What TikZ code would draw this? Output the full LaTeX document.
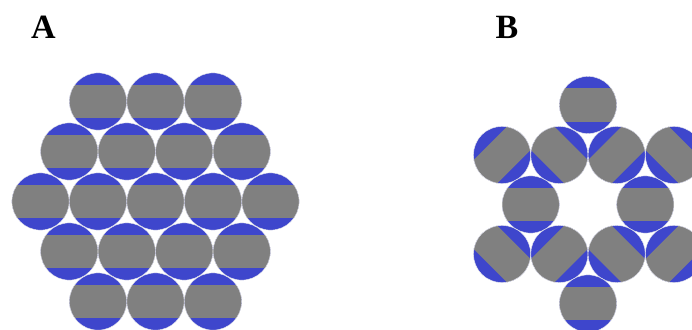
\documentclass[tikz,border=0pt]{standalone}
\usepackage{fontspec}
\setmainfont{Liberation Serif}
\definecolor{diskgray}{RGB}{128,128,128}
\definecolor{diskblue}{RGB}{62,70,204}
\tikzset{
  lbl/.style={font=\bfseries\fontsize{34}{34}\selectfont, inner sep=0pt},
  rim/.style={draw=white!85!gray, line width=0.4pt}
}
\newcommand\sdisk[3]{%
  \begin{scope}[shift={(#1,#2)}, rotate=#3]
    \begin{scope}
      \clip (0,0) circle (28.6);
      \fill[diskblue] (-30,-30) rectangle (30,30);
      \fill[diskgray] (-30,-16.6) rectangle (30,16.6);
    \end{scope}
    \draw[rim] (0,0) circle (28.6);
  \end{scope}}
\begin{document}
\begin{tikzpicture}[x=1pt,y=-1pt]
  \useasboundingbox (0,0) rectangle (692,329);
  \clip (0,0) rectangle (692,329);
  % labels
  \node[lbl] (labA) at (43.5,27.5) {A};
  \node[lbl] (labB) at (507,27.5) {B};
  % panel A
  \foreach \k in {0,...,4} {\sdisk{40.5+57.5*\k}{201.5}{0}}
  \foreach \k in {0,...,3} {\sdisk{69.25+57.5*\k}{151.5}{0}\sdisk{69.25+57.5*\k}{251.5}{0}}
  \foreach \k in {0,...,2} {\sdisk{98+57.5*\k}{101.5}{0}\sdisk{98+57.5*\k}{301.5}{0}}
  % panel B
  \sdisk{588}{105}{0}
  \sdisk{502.05}{155}{45}
  \sdisk{559.35}{155}{-45}
  \sdisk{616.65}{155}{45}
  \sdisk{673.95}{155}{-45}
  \sdisk{530.7}{204.5}{0}
  \sdisk{645.3}{204.5}{0}
  \sdisk{502.05}{254}{-45}
  \sdisk{559.35}{254}{45}
  \sdisk{616.65}{254}{-45}
  \sdisk{673.95}{254}{45}
  \sdisk{588}{303.5}{0}
\end{tikzpicture}
\end{document}
